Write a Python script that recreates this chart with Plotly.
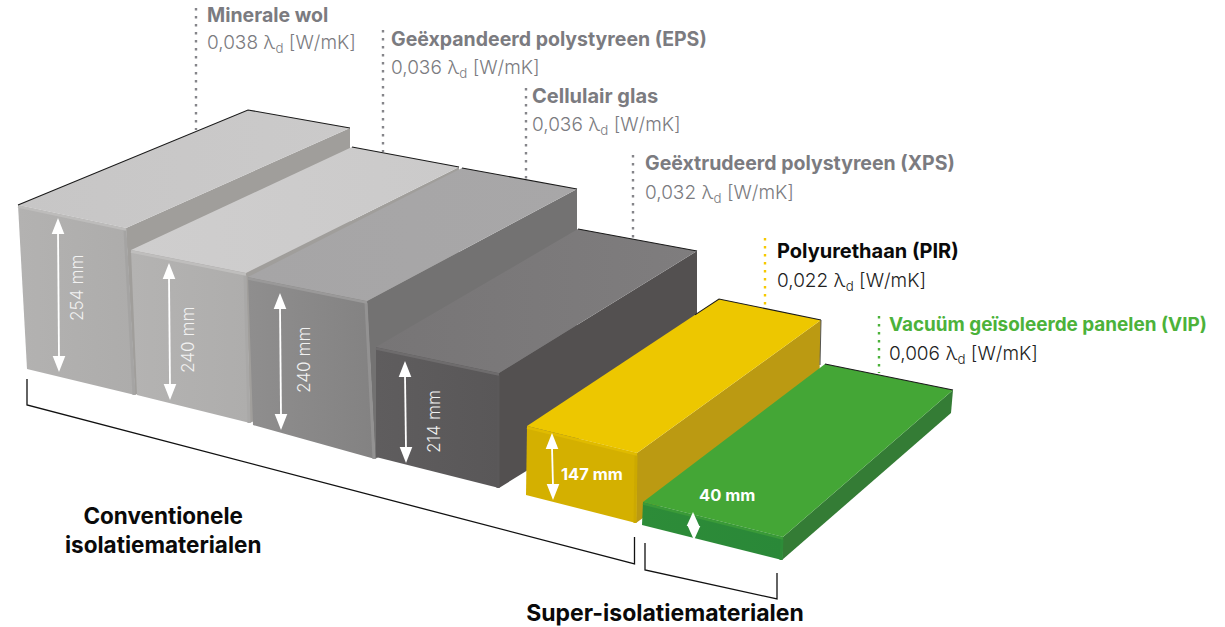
import plotly.graph_objects as go

# ---- chart data ----
materials = ["Minerale wol", "Geëxpandeerd polystyreen (EPS)", "Cellulair glas",
             "Geëxtrudeerd polystyreen (XPS)", "Polyurethaan (PIR)", "Vacuüm geïsoleerde panelen (VIP)"]
thickness_mm = [254, 240, 240, 214, 147, 40]
lambda_d = ["0,038", "0,036", "0,036", "0,032", "0,022", "0,006"]
group_labels = ["Conventionele<br>isolatiematerialen", "Super-isolatiematerialen"]

# ---- projection of each block onto the page (pixel space of the hidden axes) ----
top_corners = [
    [(18, 205), (126, 228), (350, 128), (248, 110)],
    [(131, 250), (246, 273), (459, 167), (352, 147)],
    [(248, 277), (367, 301), (577, 189), (462, 168)],
    [(376, 347), (499, 373), (697, 251), (578, 229)],
    [(527, 426), (637, 453), (821, 320), (719, 299)],
    [(643, 502), (783, 537), (953, 390), (825, 364)],
]
px_per_mm_left = [0.646, 0.604, 0.617, 0.514, 0.469, 0.575]
px_per_mm_right = [0.657, 0.625, 0.658, 0.537, 0.476, 0.575]
lean_left = [9, 6, 5, 0, -1, -1]
lean_right = [9, 4, 8, 0, -1, -1]
lean_back = [0, 0, 0, 0, -2, -2]
back_edge_from = [1.0, 0.0, 0.0, 0.0, 0.125, 0.0]

arrow_x = [58, 169, 280, 405, 552, 693]
arrow_top = [218, 263, 293, 361, 433, 512]
arrow_k = [0.606, 0.571, 0.571, 0.477, 0.456, 0.70]
arrow_head = [16, 16, 16, 16, 16, 14]

top_colors = [("#c7c6c6", "#cbcaca"), ("#cfcece", "#cbcaca"), ("#a6a5a6", "#a8a7a8"),
              ("#777576", "#7f7d7e"), ("#edc700", "#edc700"), ("#44a636", "#44a636")]
front_colors = [("#b3b2b1", "#adacab"), ("#b4b3b2", "#aeadac"), ("#8f8e8e", "#838282"),
                ("#5f5d5e", "#595758"), ("#d4b000", "#d4b000"), ("#2d8c38", "#2a8838")]
side_colors = ["#a09e9b", "#a09e9b", "#737272", "#535050", "#bb9a12", "#347c35"]
bevel_colors = ["#bdbcbb", "#bfbebd", "#9a9999", "#6e6c6d", "#e0bb00", "#3a9a38"]
bevel_side_colors = ["#a5a4a3", "#a9a8a7", "#939292", "#5a5859", "#cca900", "#2d8c38"]

label_x = [205, 389, 530, 643, 775, 887]
name_y = [15, 39, 96, 163, 251, 324]
value_y = [43, 68, 125, 193, 281, 354]
name_sizes = [19.5, 19.5, 20, 19.5, 20, 18.9]
name_colors = ["#7b7b80", "#7b7b80", "#7b7b80", "#7b7b80", "#0a0a0a", "#4cb23a"]
value_colors = ["#7b7b80", "#7b7b80", "#7b7b80", "#7b7b80", "#222222", "#222222"]
leader_x = [196, 383, 526, 633, 765, 879]
leader_top = [8, 30, 88, 155, 238, 316]
leader_bottom = [130, 152, 184, 239, 308, 373]
leader_colors = ["#85858a", "#85858a", "#85858a", "#85858a", "#f6c900", "#4cb23a"]

thick_label_pos = [(76, 288), (187, 340), (303, 360), (433, 422), (592, 474), (727, 495)]

FONT = "Inter"
fig = go.Figure()


def poly(pts, color=None, gradient=None):
    xs = [p[0] for p in pts] + [pts[0][0]]
    ys = [p[1] for p in pts] + [pts[0][1]]
    kw = dict(fillcolor=color)
    if gradient:
        kw = dict(fillgradient=dict(type="horizontal",
                                    colorscale=[[0, gradient[0]], [1, gradient[1]]]))
    fig.add_trace(go.Scatter(x=xs, y=ys, mode="lines", fill="toself",
                             line=dict(width=0), hoverinfo="skip", **kw))


def line(pts, color, width, dash=None):
    fig.add_trace(go.Scatter(x=[p[0] for p in pts], y=[p[1] for p in pts], mode="lines",
                             line=dict(color=color, width=width, dash=dash), hoverinfo="skip"))


for i, t in enumerate(thickness_mm):
    fl, fr, br, bl = top_corners[i]
    dl = t * px_per_mm_left[i]
    dr = t * px_per_mm_right[i]
    fl_b = (fl[0] + lean_left[i], fl[1] + dl)
    fr_b = (fr[0] + lean_right[i], fr[1] + dr)
    br_b = (br[0] + lean_back[i], br[1] + dr)
    poly([fr, br, br_b, fr_b], side_colors[i])
    poly([fl, fr, fr_b, fl_b], gradient=front_colors[i])
    poly([fl, fr, br, bl], gradient=top_colors[i])
    line([(fr[0] - 1, fr[1] + 2), (fr_b[0] - 1, fr_b[1])], bevel_side_colors[i], 3)
    line([(fl[0], fl[1] + 1.5), (fr[0], fr[1] + 1.5)], bevel_colors[i], 2.5)
    # dark back edges
    f = back_edge_from[i]
    if f < 1:
        start = (fl[0] + (bl[0] - fl[0]) * (1 - f) if f else bl[0],
                 fl[1] + (bl[1] - fl[1]) * (1 - f) if f else bl[1])
    else:
        start = fl
    line([start, bl, br], "#1a1a1a", 1.1)
    # thickness arrow
    x, y0, hl = arrow_x[i], arrow_top[i], arrow_head[i]
    y1 = y0 + t * arrow_k[i]
    line([(x, y0 + hl - 2), (x + 1, y1 - hl + 2)], "#ffffff", 1.8)
    poly([(x, y0), (x + 6.3, y0 + hl), (x - 6.3, y0 + hl)], "#ffffff")
    poly([(x + 1, y1), (x + 7.3, y1 - hl), (x - 5.3, y1 - hl)], "#ffffff")

# dark short edge behind the yellow block
line([(821, 320), (820, 365)], "#55544f", 1)

# leader lines
for i in range(len(materials)):
    line([(leader_x[i], leader_top[i]), (leader_x[i], leader_bottom[i])],
         leader_colors[i], 2.4, "2.4px,5.6px")

# group brackets
line([(27, 379), (27, 405), (634.5, 564), (634.5, 537)], "#111111", 1.3)
line([(645, 543), (645, 570), (777, 599), (777, 573)], "#111111", 1.3)


def note(x, y, text, size, color, weight=400, anchor="left", angle=0):
    fig.add_annotation(x=x, y=y, text=text, showarrow=False, xref="x", yref="y",
                       xanchor=anchor, yanchor="middle", textangle=angle, align="center",
                       font=dict(family=FONT, size=size, color=color, weight=weight))


for i, m in enumerate(materials):
    note(label_x[i], name_y[i], m, name_sizes[i], name_colors[i], 700)
    note(label_x[i], value_y[i], f"{lambda_d[i]} λ<sub>d</sub> [W/mK]", 19, value_colors[i], 300)
    label = f"{thickness_mm[i]} mm"
    px, py = thick_label_pos[i]
    if i < 4:
        note(px, py, label, 17.2, "#f2f2f2", 300, "center", -90)
    else:
        note(px, py, label, 16.5, "#ffffff", 700, "center")

note(163, 530, group_labels[0], 22.5, "#0a0a0a", 700, "center")
# bottom label sits close to the page edge: drawn as a text mark, which has no padded box
fig.add_trace(go.Scatter(x=[665], y=[615], mode="text", text=[group_labels[1]],
                         textposition="middle center", cliponaxis=False, hoverinfo="skip",
                         textfont=dict(family=FONT, size=23, color="#0a0a0a", weight=700)))

fig.update_layout(
    width=1225, height=627, margin=dict(l=0, r=0, t=0, b=0),
    paper_bgcolor="#ffffff", plot_bgcolor="#ffffff", showlegend=False,
    xaxis=dict(range=[0, 1225], visible=False, fixedrange=True),
    yaxis=dict(range=[627, 0], visible=False, fixedrange=True),
)
fig.write_html("out.html", config={"displayModeBar": False},
               post_script="document.body.style.margin='0';document.body.style.overflow='hidden';")
